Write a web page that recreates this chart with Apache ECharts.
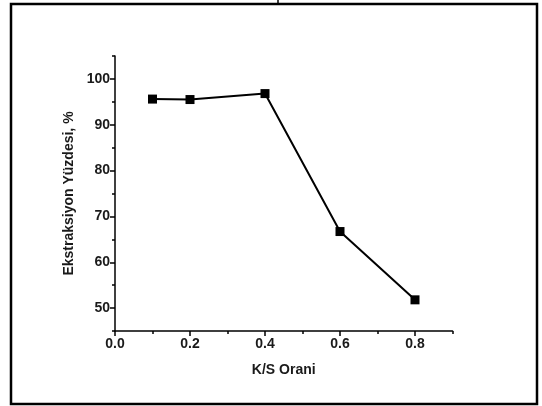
<!DOCTYPE html>
<html>
<head>
<meta charset="utf-8">
<script src="https://cdn.jsdelivr.net/npm/echarts@6/dist/echarts.min.js"></script>
<style>
html,body{margin:0;padding:0;background:#fff;}
#chart{width:542px;height:406px;}
</style>
</head>
<body>
<div id="chart"></div>
<script>
const ksRatio = [0.1, 0.2, 0.4, 0.6, 0.8];
const extractionPct = [95.6, 95.5, 96.8, 66.7, 51.8];
const xMajorTicks = [0, 0.2, 0.4, 0.6, 0.8];
const xMinorTicks = [0.1, 0.3, 0.5, 0.7, 0.9];
const yMajorTicks = [50, 60, 70, 80, 90, 100];
const yMinorTicks = [45, 55, 65, 75, 85, 95, 105];
const xTitle = 'K/S Orani';
const yTitle = 'Ekstraksiyon Yüzdesi, %';

const font = '"Liberation Sans", Arial, sans-serif';
const chart = echarts.init(document.getElementById('chart'), null, {renderer: 'canvas'});

const labelStyle = {fontFamily: font, fontWeight: 'bold', fontSize: 14, color: '#1a1a1a'};

chart.setOption({
  animation: false,
  backgroundColor: '#fff',
  grid: {left: 115, top: 56, right: 89.5, bottom: 75, containLabel: false},
  xAxis: [{
    type: 'value', min: 0, max: 0.9, interval: 0.1, position: 'bottom',
    axisLine: {show: true, onZero: false, lineStyle: {color: '#000', width: 1.5}},
    axisTick: {show: true, customValues: xMajorTicks, length: 5, lineStyle: {color: '#000', width: 1.5}},
    axisLabel: Object.assign({customValues: xMajorTicks, margin: 6, formatter: v => v.toFixed(1)}, labelStyle),
    splitLine: {show: false},
    name: xTitle, nameLocation: 'middle', nameGap: 32,
    nameTextStyle: {fontFamily: font, fontWeight: 'bold', fontSize: 14, color: '#1a1a1a'}
  }, {
    type: 'value', min: 0, max: 0.9, interval: 0.1, position: 'bottom',
    axisLine: {show: false},
    axisTick: {show: true, customValues: xMinorTicks, length: 3, lineStyle: {color: '#000', width: 1.5}},
    axisLabel: {show: false},
    splitLine: {show: false}
  }],
  yAxis: [{
    type: 'value', min: 45, max: 105, interval: 5, position: 'left',
    axisLine: {show: true, onZero: false, lineStyle: {color: '#000', width: 1.5}},
    axisTick: {show: true, customValues: yMajorTicks, length: 5, lineStyle: {color: '#000', width: 1.5}},
    axisLabel: Object.assign({customValues: yMajorTicks, margin: 5}, labelStyle),
    splitLine: {show: false},
    name: yTitle, nameLocation: 'middle', nameGap: 36, nameRotate: 90,
    nameTextStyle: {fontFamily: font, fontWeight: 'bold', fontSize: 14, color: '#1a1a1a'}
  }, {
    type: 'value', min: 45, max: 105, interval: 5, position: 'left',
    axisLine: {show: false},
    axisTick: {show: true, customValues: yMinorTicks, length: 3, lineStyle: {color: '#000', width: 1.5}},
    axisLabel: {show: false},
    splitLine: {show: false}
  }],
  series: [{
    type: 'line',
    xAxisIndex: 0, yAxisIndex: 0,
    data: ksRatio.map((x, i) => [x, extractionPct[i]]),
    symbol: 'rect', symbolSize: 9,
    lineStyle: {color: '#000', width: 2},
    itemStyle: {color: '#000'},
    z: 5
  }],
  graphic: [{
    type: 'rect', silent: true,
    shape: {x: 11, y: 4, width: 526, height: 400},
    style: {fill: 'none', stroke: '#000', lineWidth: 2.5}
  }, {
    type: 'line', silent: true,
    shape: {x1: 278, y1: 0, x2: 278, y2: 4},
    style: {stroke: '#000', lineWidth: 1.5}
  }]
});
</script>
</body>
</html>
